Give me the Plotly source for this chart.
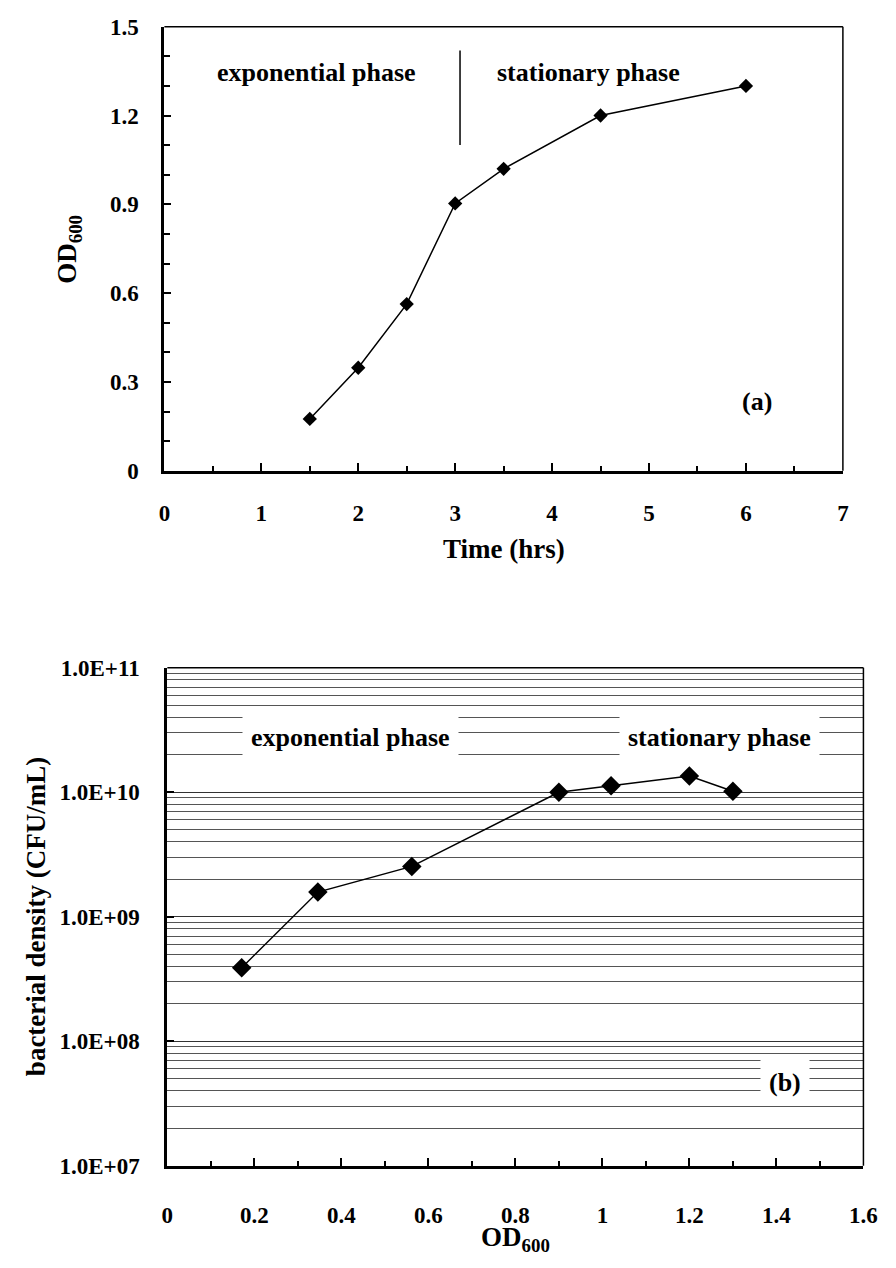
import plotly.graph_objects as go

# ---- data (a): OD600 vs time
time_hrs = [1.5, 2.0, 2.5, 3.0, 3.5, 4.5, 6.0]
od600 = [0.175, 0.348, 0.563, 0.903, 1.02, 1.20, 1.30]
divider_x = [3.05, 3.05]
divider_y = [1.10, 1.42]

# ---- data (b): bacterial density vs OD600
od_b = [0.171, 0.346, 0.562, 0.90, 1.02, 1.20, 1.30]
cfu = [3.9e8, 1.58e9, 2.54e9, 1.0e10, 1.13e10, 1.35e10, 1.02e10]

y_major = [1e7, 1e8, 1e9, 1e10, 1e11]
y_major_text = ["1.0E+07", "1.0E+08", "1.0E+09", "1.0E+10", "1.0E+11"]
y_minor = [m * 10 ** e for e in range(7, 11) for m in range(2, 10)]

FONT = "Liberation Serif, Times New Roman, serif"
W, H = 896, 1268

fig = go.Figure()

# (a)
fig.add_trace(go.Scatter(x=time_hrs, y=od600, mode="lines+markers",
                         line=dict(color="black", width=1.5),
                         marker=dict(symbol="diamond", size=11, color="black"),
                         xaxis="x", yaxis="y", showlegend=False))
fig.add_trace(go.Scatter(x=divider_x, y=divider_y, mode="lines",
                         line=dict(color="black", width=1.5),
                         xaxis="x", yaxis="y", showlegend=False))
# (b)
fig.add_trace(go.Scatter(x=od_b, y=cfu, mode="lines+markers",
                         line=dict(color="black", width=1.5),
                         marker=dict(symbol="diamond", size=15, color="black"),
                         xaxis="x2", yaxis="y2", showlegend=False))

tickfont = dict(family=FONT, size=23, color="black", weight="bold")
titlefont = dict(family=FONT, size=27, color="black", weight="bold")
annfont = dict(family=FONT, size=26, color="black", weight="bold")

top_x = [162 / W, 856 / W]
top_y = [1 - 468 / H, 1 - 15 / H]
bot_x = [165 / W, 877 / W]
bot_y = [1 - 1177 / H, 1 - 669 / H]

fig.update_layout(
    width=W, height=H, margin=dict(l=0, r=0, t=0, b=0),
    paper_bgcolor="white", plot_bgcolor="white",
    xaxis=dict(domain=top_x, range=[0, 7], dtick=1, tick0=0, showgrid=False, zeroline=False,
               showline=True, linecolor="black", linewidth=3, ticks="inside", ticklen=8,
               tickwidth=2, tickcolor="black", tickfont=tickfont, ticklabelstandoff=20,
               minor=dict(dtick=0.5, ticks="inside", ticklen=5, tickwidth=1.5, tickcolor="black"),
               anchor="y"),
    yaxis=dict(domain=top_y, range=[0, 1.5], dtick=0.3, tick0=0, showgrid=False, zeroline=False,
               showline=True, linecolor="black", linewidth=3, ticks="inside", ticklen=7,
               tickwidth=2, tickcolor="black", tickfont=tickfont, ticklabelstandoff=18,
               minor=dict(dtick=0.1, ticks="inside", ticklen=6, tickwidth=1.5, tickcolor="black"),
               anchor="x"),
    xaxis2=dict(domain=bot_x, range=[0, 1.6], dtick=0.2, tick0=0, showgrid=False, zeroline=False,
                showline=True, linecolor="black", linewidth=3, ticks="inside", ticklen=8,
                tickwidth=2, tickcolor="black", tickfont=tickfont, ticklabelstandoff=27,
                minor=dict(dtick=0.1, ticks="inside", ticklen=5, tickwidth=1.5, tickcolor="black"),
                anchor="y2"),
    yaxis2=dict(domain=bot_y, type="log", range=[7, 11], tickmode="array",
                tickvals=y_major, ticktext=y_major_text, showgrid=True, gridcolor="#333",
                gridwidth=1, zeroline=False, showline=True, linecolor="black", linewidth=3,
                ticks="inside", ticklen=7, tickwidth=2, tickcolor="black", tickfont=tickfont,
                ticklabelstandoff=20,
                minor=dict(tickmode="array", tickvals=y_minor, showgrid=True, gridcolor="#555",
                           gridwidth=1, ticks=""),
                anchor="x2"),
)

# frame lines (top and right) for both panels
for xr, yr in [("x domain", "y domain"), ("x2 domain", "y2 domain")]:
    fig.add_shape(type="line", xref=xr, yref=yr, x0=0, x1=1, y0=1, y1=1,
                  line=dict(color="black", width=1.5), layer="above")
    fig.add_shape(type="line", xref=xr, yref=yr, x0=1, x1=1, y0=0, y1=1,
                  line=dict(color="black", width=1.5), layer="above")

ann = []
# panel (a) texts
ann.append(dict(x=1.57, y=1.344, xref="x", yref="y", text="exponential phase",
                showarrow=False, font=annfont))
ann.append(dict(x=4.38, y=1.344, xref="x", yref="y", text="stationary phase",
                showarrow=False, font=annfont))
ann.append(dict(x=6.11, y=0.235, xref="x", yref="y", text="(a)", showarrow=False, font=annfont))
# panel (b) texts
ann.append(dict(x=0.42, y=10.44, xref="x2", yref="y2", text="exponential phase",
                showarrow=False, font=annfont, bgcolor="white", borderpad=8))
ann.append(dict(x=1.27, y=10.44, xref="x2", yref="y2", text="stationary phase",
                showarrow=False, font=annfont, bgcolor="white", borderpad=8))
ann.append(dict(x=1.42, y=7.67, xref="x2", yref="y2", text="(b)", showarrow=False,
                font=annfont, bgcolor="white", borderpad=8))
# axis titles
ann.append(dict(x=65 / W, y=1 - 242 / H, xref="paper", yref="paper", text="OD<sub>600</sub>",
                textangle=-90, showarrow=False, font=titlefont, xanchor="center", yanchor="middle"))
ann.append(dict(x=509 / W, y=1 - 548 / H, xref="paper", yref="paper", text="Time (hrs)",
                showarrow=False, font=titlefont, xanchor="center", yanchor="middle"))
ann.append(dict(x=30 / W, y=1 - 923 / H, xref="paper", yref="paper",
                text="bacterial density (CFU/mL)", textangle=-90, showarrow=False,
                font=titlefont, xanchor="center", yanchor="middle"))
ann.append(dict(x=521 / W, y=1 - 1252 / H, xref="paper", yref="paper", text="OD<sub>600</sub>",
                showarrow=False, font=titlefont, xanchor="center", yanchor="middle"))
fig.update_layout(annotations=ann)

fig.write_html("out.html")
